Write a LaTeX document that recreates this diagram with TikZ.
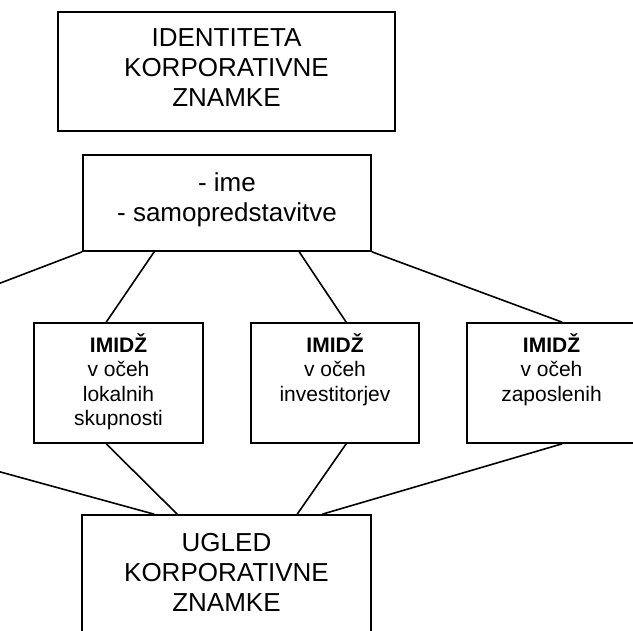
\documentclass[tikz,border=0pt]{standalone}
\usepackage{fontspec}
\setmainfont{Liberation Sans}
\begin{document}
\begin{tikzpicture}[x=1pt,y=-1pt,
  box/.style={draw, line width=1.6pt, minimum width=#1, inner sep=0pt},
  bigtxt/.style={font=\fontsize{26}{30}\selectfont, align=center, inner sep=0pt, anchor=base},
  smalltxt/.style={font=\fontsize{21}{24.5}\selectfont, align=center, inner sep=0pt, anchor=base},
  link/.style={line width=1.6pt}]
\useasboundingbox (0,0) rectangle (633,631);
\clip (0,0) rectangle (633,631);

% boxes
\node[box=337pt, minimum height=119pt] (top) at (226.5,71.5) {};
\node[box=288pt, minimum height=96pt] (mid) at (227,203) {};
\node[box=169pt, minimum height=120pt] (lbox) at (118.5,383) {};
\node[box=168pt, minimum height=120pt] (cbox) at (335,383) {};
\node[box=169pt, minimum height=120pt] (rbox) at (551.5,383) {};
\node[box=289pt, minimum height=145pt] (ugled) at (226.5,587.5) {};

% texts, placed by the baseline of their last line
\node[bigtxt] (ttop) at (226.5,107) {IDENTITETA\\KORPORATIVNE\\ZNAMKE};
\node[bigtxt] (tmid) at (227,222) {- ime\\- samopredstavitve};
\node[smalltxt] (tl) at (118.5,426) {\textbf{IMIDŽ}\\v očeh\\lokalnih\\skupnosti};
\node[smalltxt] (tc) at (335,401.5) {\textbf{IMIDŽ}\\v očeh\\investitorjev};
\node[smalltxt] (tr) at (551.5,401.5) {\textbf{IMIDŽ}\\v očeh\\zaposlenih};
\node[bigtxt] (tug) at (226.5,611.5) {UGLED\\KORPORATIVNE\\ZNAMKE};

% free ends beyond the left edge
\coordinate (offA) at (-60,306.1);
\coordinate (offB) at (-60,455.4);

% connectors
\draw[link] (mid.south west) -- (offA);
\draw[link] ([xshift=72pt]mid.south west) -- ([xshift=73pt]lbox.north west);
\draw[link] ([xshift=217pt]mid.south west) -- ([xshift=96pt]cbox.north west);
\draw[link] (mid.south east) -- ([xshift=96pt]rbox.north west);
\draw[link] ([xshift=73pt]lbox.south west) -- ([xshift=96pt]ugled.north west);
\draw[link] (offB) -- ([xshift=73pt]ugled.north west);
\draw[link] ([xshift=96pt]cbox.south west) -- ([xshift=216pt]ugled.north west);
\draw[link] ([xshift=96pt]rbox.south west) -- ([xshift=241pt]ugled.north west);
\end{tikzpicture}
\end{document}
